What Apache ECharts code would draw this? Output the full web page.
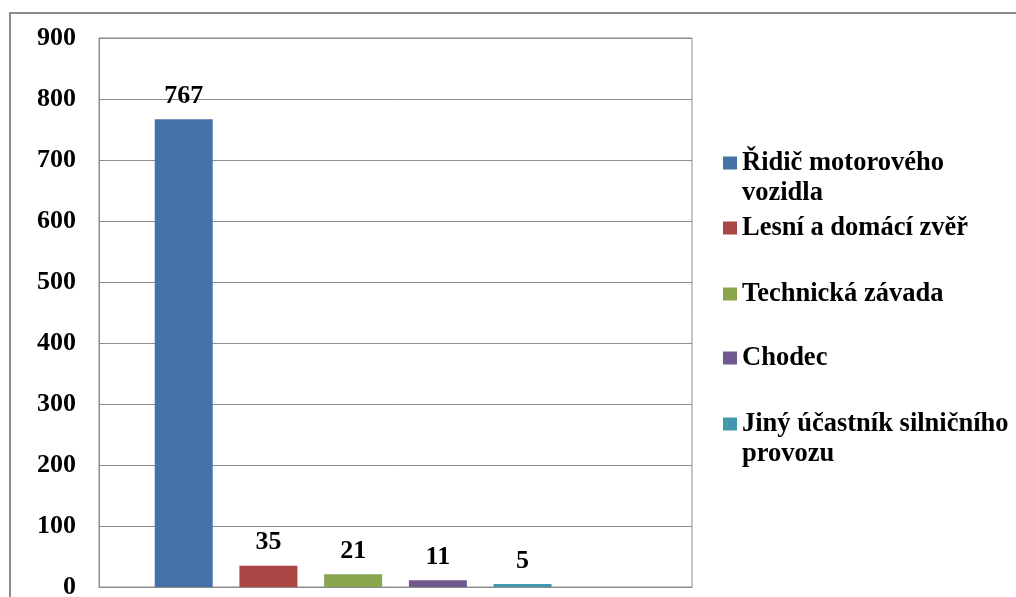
<!DOCTYPE html>
<html>
<head>
<meta charset="utf-8">
<script src="https://cdn.jsdelivr.net/npm/echarts@6/dist/echarts.min.js"></script>
<style>
  html, body { margin: 0; padding: 0; background: #fff; }
  #chart { width: 1016px; height: 597px; }
</style>
</head>
<body>
<div id="chart"></div>
<script>
// Causes of traffic accidents (počet nehod)
const seriesNames = [
  'Řidič motorového vozidla',
  'Lesní a domácí zvěř',
  'Technická závada',
  'Chodec',
  'Jiný účastník silničního provozu'
];
const seriesValues = [767, 35, 21, 11, 5];
const seriesColors = ['#4572A7', '#AA4643', '#89A54E', '#71588F', '#4198AF'];
const yTicks = [0, 100, 200, 300, 400, 500, 600, 700, 800, 900];

// Legend wording, broken onto two lines where the text is long
const legendText = {
  'Řidič motorového vozidla': 'Řidič motorového\nvozidla',
  'Jiný účastník silničního provozu': 'Jiný účastník silničního\nprovozu'
};
// Vertical centres of the legend markers
const legendCenters = [163, 228, 294, 358, 424];

const FONT = '"Liberation Serif", "Times New Roman", serif';
const LINE_H = 30;
const MARK_W = 14;
const MARK_H = 13;

// A square marker; for two-line entries the icon box is extended downward by
// one text line (with an invisible point) so the square sits beside the first line.
const squareIcon = 'path://M0,0H' + MARK_W + 'V' + MARK_H + 'H0Z';
const tallIcon = squareIcon + ' M0,' + (MARK_H + LINE_H) + 'H0.01V' + (MARK_H + LINE_H) + 'H0Z';

const chart = echarts.init(document.getElementById('chart'));

const legends = seriesNames.map((name, i) => {
  const twoLine = !!legendText[name];
  return {
    orient: 'vertical',
    left: 723,
    top: legendCenters[i] - LINE_H / 2,
    padding: 0,
    data: [name],
    icon: twoLine ? tallIcon : 'rect',
    itemWidth: MARK_W,
    itemHeight: twoLine ? MARK_H + LINE_H : MARK_H,
    itemGap: 0,
    selectedMode: false,
    formatter: n => legendText[n] || n,
    textStyle: {
      fontFamily: FONT,
      fontWeight: 'bold',
      fontSize: 26.5,
      lineHeight: LINE_H,
      color: '#000'
    }
  };
});

const series = seriesNames.map((name, i) => ({
  name: name,
  type: 'bar',
  barWidth: 58,
  barGap: '-100%',
  itemStyle: { color: seriesColors[i] },
  label: {
    show: true,
    position: 'top',
    distance: 10,
    fontFamily: FONT,
    fontWeight: 'bold',
    fontSize: 26,
    color: '#000'
  },
  data: [[i + 1, seriesValues[i]]]
}));

chart.setOption({
  animation: false,
  backgroundColor: '#fff',
  color: seriesColors,
  graphic: [{
    type: 'rect',
    silent: true,
    z: -1,
    shape: { x: 10, y: 13, width: 1100, height: 700 },
    style: { fill: 'none', stroke: '#8c8c8c', lineWidth: 2 }
  }],
  legend: legends,
  grid: {
    left: 99, right: 324, top: 38, bottom: 10,
    show: true, borderColor: '#8c8c8c', borderWidth: 1,
    containLabel: false,
    outerBoundsMode: 'none'
  },
  xAxis: {
    type: 'value',
    min: 0, max: 7,
    axisLine: { show: true, onZero: false, lineStyle: { color: '#8c8c8c', width: 1 } },
    axisTick: { show: false },
    axisLabel: { show: false },
    splitLine: { show: false }
  },
  yAxis: {
    type: 'value',
    min: yTicks[0],
    max: yTicks[yTicks.length - 1],
    interval: yTicks[1] - yTicks[0],
    axisLine: { show: true, lineStyle: { color: '#8c8c8c', width: 1 } },
    axisTick: { show: false },
    splitLine: { show: true, lineStyle: { color: '#8c8c8c', width: 1 } },
    axisLabel: {
      margin: 23,
      fontFamily: FONT,
      fontWeight: 'bold',
      fontSize: 26,
      color: '#000'
    }
  },
  series: series
});
</script>
</body>
</html>
